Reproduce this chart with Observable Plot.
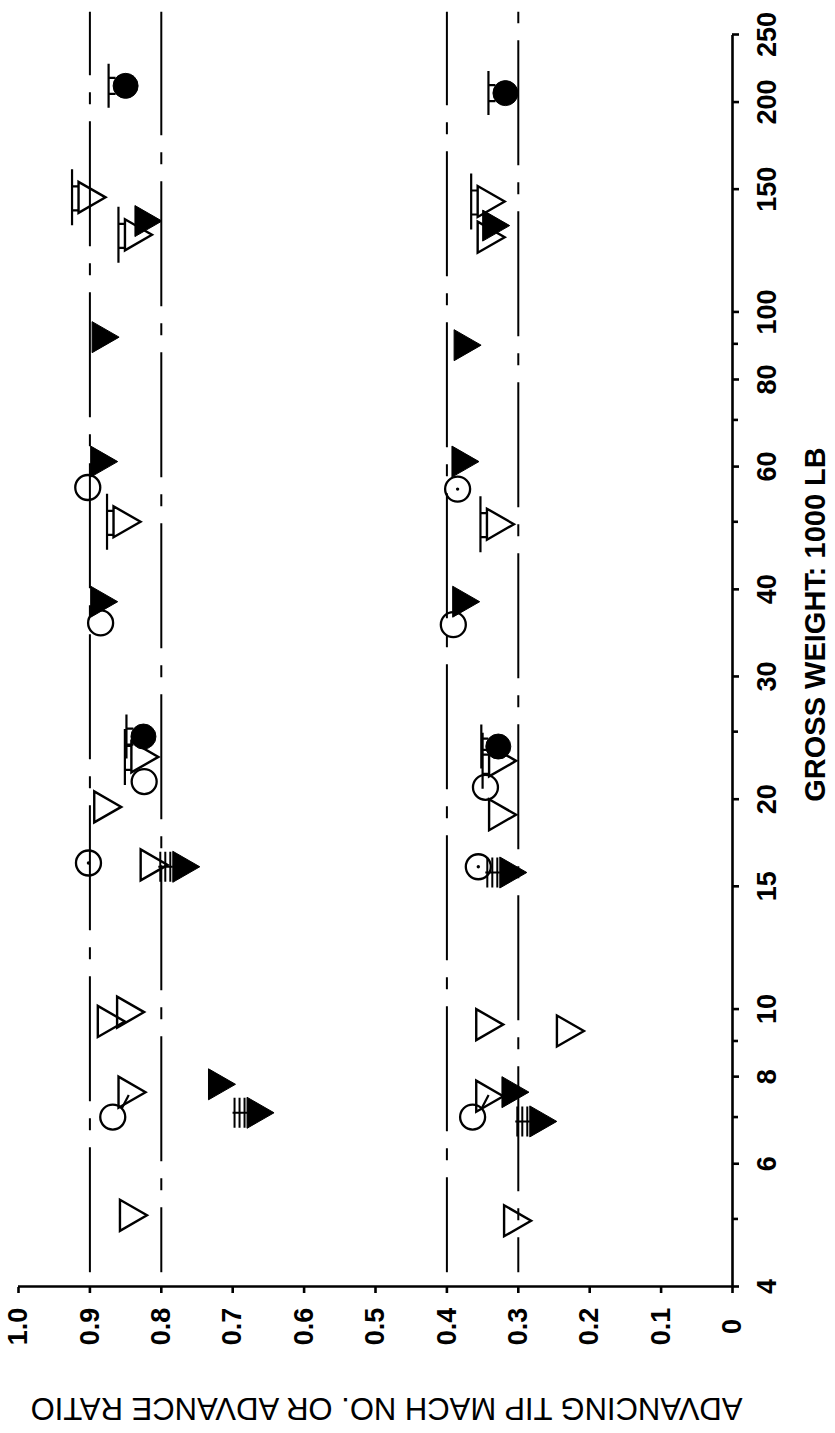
<!DOCTYPE html>
<html>
<head>
<meta charset="utf-8">
<script src="https://cdn.jsdelivr.net/npm/d3@7"></script>
<script src="https://cdn.jsdelivr.net/npm/@observablehq/plot@0.6"></script>
<style>
html, body { margin: 0; padding: 0; background: #fff; }
#wrap { position: relative; width: 835px; height: 1433px; overflow: hidden; background: #fff; }
#wrap svg { position: absolute; left: 0; top: 0; transform-origin: 0 0; transform: translate(0px, 1433px) rotate(-90deg);
  max-width: none !important; width: 1433px !important; height: 835px !important; }
</style>
</head>
<body>
<div id="wrap"></div>
<script>
// ---- tick labels ----
const weightLabelTicks = [4, 6, 8, 10, 15, 20, 30, 40, 60, 80, 100, 150, 200, 250];
const weightMinorTicks = [5, 7, 9, 25, 50, 70, 90];
const machTicks = [0, 0.1, 0.2, 0.3, 0.4, 0.5, 0.6, 0.7, 0.8, 0.9, 1.0];

// ---- reference limit lines (tip Mach 0.9 / 0.8, advance ratio 0.4 / 0.3) ----
const refLevels = [0.9, 0.8, 0.4, 0.3];
const refWeightFrom = 4.2;
const refWeightTo = 270;

// ---- data points: gross weight (1000 lb), value (tip Mach or advance ratio) ----
const weight = [
  // advancing tip Mach number group
  211, 146, 135, 129, 92, 61, 56, 50, 38.4, 35.8, 24.6, 23, 21.2, 19.5, 16.2, 16.1, 16.0, 9.6, 9.9, 7.6, 7.0, 7.8, 7.1, 5.06,
  // advance ratio group
  206, 144, 133, 128, 89.6, 61, 55.7, 49.6, 38.4, 35.6, 23.8, 22.7, 20.8, 19.0, 16.0, 15.7, 9.5, 9.3, 7.5, 7.0, 7.6, 6.9, 4.97
];
const value = [
  0.850, 0.897, 0.818, 0.832, 0.878, 0.880, 0.903, 0.848, 0.880, 0.885, 0.825, 0.823, 0.824, 0.875, 0.902, 0.810, 0.765, 0.870, 0.843, 0.841, 0.868, 0.715, 0.661, 0.839,
  0.318, 0.338, 0.331, 0.338, 0.371, 0.374, 0.385, 0.325, 0.373, 0.391, 0.328, 0.322, 0.346, 0.322, 0.356, 0.307, 0.340, 0.227, 0.340, 0.364, 0.304, 0.265, 0.301
];
const marker = [
  "filled-circle", "open-triangle", "filled-triangle", "open-triangle", "filled-triangle", "filled-triangle", "open-circle", "open-triangle", "filled-triangle", "open-circle", "filled-circle", "open-triangle", "open-circle", "open-triangle", "dot-circle", "open-triangle", "filled-triangle", "open-triangle", "open-triangle", "open-triangle", "open-circle", "filled-triangle", "filled-triangle", "open-triangle",
  "filled-circle", "open-triangle", "filled-triangle", "open-triangle", "filled-triangle", "filled-triangle", "dot-circle", "open-triangle", "filled-triangle", "open-circle", "filled-circle", "open-triangle", "open-circle", "open-triangle", "dot-circle", "filled-triangle", "open-triangle", "open-triangle", "open-triangle", "open-circle", "filled-triangle", "filled-triangle", "open-triangle"
];
const flag = [
  "T", "T", "", "T", "", "", "", "T", "", "", "T", "T", "", "", "", "", "multi", "", "", "", "tail", "", "multi", "",
  "T", "T", "", "", "", "", "", "T", "", "", "T", "T", "", "", "", "multi", "", "", "", "tail", "", "multi", ""
];

const points = weight.map((w, i) => ({weight: w, value: value[i], marker: marker[i], flag: flag[i]}));
const refLines = refLevels.map(v => ({level: v, from: refWeightFrom, to: refWeightTo}));

// ---- custom symbols (triangle points toward lower values) ----
const K = s => Math.sqrt(s / Math.PI) / 12.5;
const triDown = {draw(c, s) { const k = K(s);
  c.moveTo(-15.5 * k, -13.5 * k); c.lineTo(15.5 * k, -13.5 * k); c.lineTo(0, 13.5 * k); c.closePath(); }};
const flagTri = {draw(c, s) { const k = K(s), y = -20 * k;
  c.moveTo(-28 * k, y); c.lineTo(28 * k, y);
  c.moveTo(-13 * k, y); c.lineTo(-13 * k, -13.5 * k);
  c.moveTo(11 * k, y); c.lineTo(11 * k, -13.5 * k); }};
const flagCircle = {draw(c, s) { const k = K(s), y = -17 * k;
  c.moveTo(-22 * k, y); c.lineTo(22 * k, y);
  c.moveTo(-8 * k, y); c.lineTo(-8 * k, -10 * k);
  c.moveTo(8 * k, y); c.lineTo(8 * k, -10 * k); }};
const flagMulti = {draw(c, s) { const k = K(s);
  for (const y of [-16, -21, -26]) { c.moveTo(-15 * k, y * k); c.lineTo(15 * k, y * k); }
  c.moveTo(0, -28 * k); c.lineTo(0, -13.5 * k); }};
const flagTail = {draw(c, s) { const k = K(s);
  c.moveTo(8.5 * k, 9 * k); c.lineTo(22 * k, 16 * k); }};

const isTri = d => d.marker.endsWith("triangle");
const font = "'Liberation Sans', Arial, Helvetica, sans-serif";
const xy = {x: "weight", y: "value"};

const marks = [];
refLines.forEach((r, i) => {
  marks.push(Plot.ruleY([r], {y: "level", x1: "from", x2: "to", stroke: "black", strokeWidth: 2,
    strokeDasharray: "125,17,12,17", strokeDashoffset: [0, 60, 30, 90][i]}));
});
marks.push(
  Plot.ruleX([4], {y1: 0, y2: 1, stroke: "black", strokeWidth: 2.6}),
  Plot.ruleY([0], {x1: 4, x2: 250, stroke: "black", strokeWidth: 2.6}),
  Plot.axisX({ticks: weightLabelTicks, tickSize: 7, strokeWidth: 2.6, tickFormat: () => ""}),
  Plot.axisX({ticks: weightMinorTicks, tickSize: 6, strokeWidth: 2.6, tickFormat: () => ""}),
  // weight tick labels (drawn as text so that the log scale keeps every label)
  Plot.text(weightLabelTicks, {x: d => d, text: d => String(d), frameAnchor: "bottom", dy: 35, lineAnchor: "middle", textAnchor: "middle",
    fontSize: 27, fontWeight: "bold", fontFamily: font}),
  Plot.axisY({ticks: machTicks, tickSize: 6, tickPadding: 34, strokeWidth: 2.6, fontSize: 27, fontWeight: "bold", fontFamily: font, textAnchor: "middle",
    tickFormat: d => d === 0 ? "0" : d.toFixed(1)}),
  // flags
  Plot.dot(points.filter(d => d.flag === "T" && isTri(d)), {...xy, symbol: flagTri, r: 12.5, fill: "none", stroke: "black", strokeWidth: 2.2}),
  Plot.dot(points.filter(d => d.flag === "T" && !isTri(d)), {...xy, symbol: flagCircle, r: 12.5, fill: "none", stroke: "black", strokeWidth: 2.2}),
  Plot.dot(points.filter(d => d.flag === "multi"), {...xy, symbol: flagMulti, r: 12.5, fill: "none", stroke: "black", strokeWidth: 2}),
  Plot.dot(points.filter(d => d.flag === "tail"), {...xy, symbol: flagTail, r: 12.5, fill: "none", stroke: "black", strokeWidth: 2.2}),
  // symbols
  Plot.dot(points.filter(d => d.marker === "open-circle" || d.marker === "dot-circle"), {...xy, symbol: "circle", r: 12.5, fill: "none", stroke: "black", strokeWidth: 2.3}),
  Plot.dot(points.filter(d => d.marker === "dot-circle"), {...xy, symbol: "circle", r: 1.7, fill: "black", stroke: "none"}),
  Plot.dot(points.filter(d => d.marker === "filled-circle"), {...xy, symbol: "circle", r: 12.5, fill: "black", stroke: "black", strokeWidth: 1}),
  Plot.dot(points.filter(d => d.marker === "open-triangle"), {...xy, symbol: triDown, r: 12.5, fill: "none", stroke: "black", strokeWidth: 2.4, strokeLinejoin: "miter"}),
  Plot.dot(points.filter(d => d.marker === "filled-triangle"), {...xy, symbol: triDown, r: 12.5, fill: "black", stroke: "black", strokeWidth: 1}),
  // axis titles
  Plot.text(["GROSS WEIGHT: 1000 LB"], {text: d => d, frameAnchor: "bottom", dy: 83, dx: 36, lineAnchor: "middle", textAnchor: "middle",
    fontSize: 29, fontWeight: "bold", fontFamily: font}),
  Plot.text(["ADVANCING TIP MACH NO. OR ADVANCE RATIO"], {text: d => d, frameAnchor: "left", rotate: -90, dx: -121, dy: 11, lineAnchor: "middle", textAnchor: "middle",
    fontSize: 31, fontFamily: font})
);

const chart = Plot.plot({
  width: 1433,
  height: 835,
  marginLeft: 146,
  marginRight: 35,
  marginTop: 18,
  marginBottom: 103,
  x: {type: "log", domain: [4, 250], label: null},
  y: {domain: [0, 1], label: null},
  style: {background: "white", color: "black", fontFamily: font, overflow: "visible"},
  marks
});
document.getElementById("wrap").appendChild(chart);
</script>
</body>
</html>
